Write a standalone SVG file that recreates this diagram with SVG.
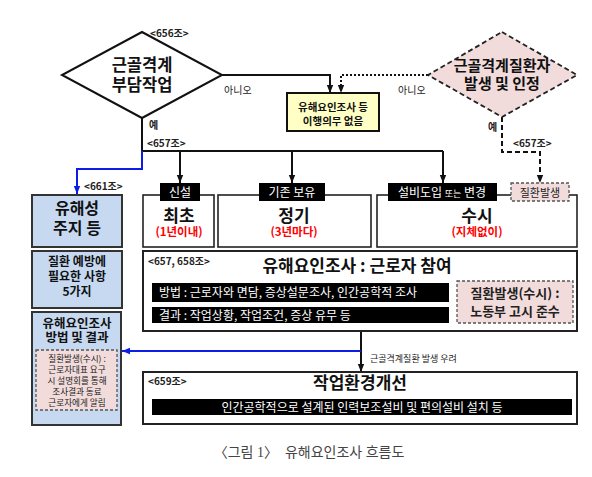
<svg xmlns="http://www.w3.org/2000/svg" width="592" height="477" viewBox="0 0 592 477">
<defs>
<style>
text{font-family:"Noto Sans CJK KR","Liberation Sans",sans-serif;}
.b{font-weight:bold;}
.c{text-anchor:middle;}
.box{fill:#fff;stroke:#222;stroke-width:2;}
.blue{fill:#C6D9F1;stroke:#333;stroke-width:2;}
.pink{fill:#F2DCDB;stroke:#555;stroke-width:1.3;stroke-dasharray:3,2;}
.bar{fill:#000;}
.wt{fill:#fff;font-size:12px;}
.ref{font-size:10px;font-weight:bold;fill:#222;}
.red{fill:#FF0000;font-size:11.5px;font-weight:bold;}
.ln{fill:none;stroke:#111;stroke-width:2;}
.bl{fill:none;stroke:#0A1EE6;stroke-width:2;}
</style>
<marker id="ah" viewBox="0 0 10 10" refX="10" refY="5" markerUnits="userSpaceOnUse" markerWidth="8" markerHeight="8" orient="auto"><path d="M0,1 L10,5 L0,9 z" fill="#111"/></marker>
<marker id="ahb" viewBox="0 0 10 10" refX="10" refY="5" markerUnits="userSpaceOnUse" markerWidth="8" markerHeight="8" orient="auto"><path d="M0,1 L10,5 L0,9 z" fill="#0A1EE6"/></marker>
</defs>
<rect width="592" height="477" fill="#fff"/>

<g id="connectors">
<path class="ln" d="M222,75 H330 V93" marker-end="url(#ah)"/>
<path class="ln" d="M428,75 H341 V93" stroke-dasharray="2,2" marker-end="url(#ah)"/>
<path class="ln" d="M142,118 V151 H443"/>
<path class="ln" d="M180,151 V183" marker-end="url(#ah)"/>
<path class="ln" d="M292,151 V183" marker-end="url(#ah)"/>
<path class="ln" d="M443,151 V183" marker-end="url(#ah)"/>
<path class="bl" d="M142,151 V169 H77 V194" marker-end="url(#ahb)"/>
<path class="ln" d="M502,117 V152 H540 V183" stroke-dasharray="5,3" marker-end="url(#ah)"/>
<path class="ln" d="M361,331 V372" marker-end="url(#ah)"/>
<path class="bl" d="M361,351 H122" marker-end="url(#ahb)"/>
<text class="ref" x="150" y="37">&lt;656조&gt;</text>
<text x="224" y="94" font-size="10" fill="#222">아니오</text>
<text x="398" y="94" font-size="10" fill="#222">아니오</text>
<text x="149" y="129" font-size="10" class="b" fill="#222">예</text>
<text class="ref" x="147" y="147">&lt;657조&gt;</text>
<text x="488" y="131" font-size="10" class="b" fill="#222">예</text>
<text class="ref" x="513" y="147">&lt;657조&gt;</text>
<text class="ref" x="84" y="190">&lt;661조&gt;</text>
<text x="370" y="362" font-size="9" fill="#222">근골격계질환 발생 우려</text>
</g>

<g id="decision1">
<polygon points="142,32 222,75 142,118 62,75" fill="#fff" stroke="#111" stroke-width="2"/>
<text class="b c" font-size="16.5" fill="#111"><tspan x="142" y="71">근골격계</tspan><tspan x="142" y="91">부담작업</tspan></text>
</g>

<g id="decision2">
<polygon points="502,32 577,75 502,117 428,75" fill="#F2DCDB" stroke="#222" stroke-width="1.8" stroke-dasharray="5,3"/>
<text class="b c" font-size="15" fill="#111"><tspan x="502" y="71">근골격계질환자</tspan><tspan x="502" y="89">발생 및 인정</tspan></text>
</g>

<g id="no-duty">
<rect x="287" y="93" width="92" height="38" fill="#FFFFC5" stroke="#111" stroke-width="2"/>
<text class="b c" font-size="10.5" fill="#111"><tspan x="333" y="111">유해요인조사 등</tspan><tspan x="333" y="125">이행의무 없음</tspan></text>
</g>

<g id="notice">
<rect class="blue" x="32" y="195" width="90" height="52"/>
<text class="b c" font-size="16" fill="#111"><tspan x="77" y="214">유해성</tspan><tspan x="77" y="234">주지 등</tspan></text>
</g>

<g id="prevention">
<rect class="blue" x="32" y="251" width="90" height="57"/>
<text class="b c" font-size="12" fill="#111"><tspan x="77" y="266">질환 예방에</tspan><tspan x="77" y="281">필요한 사항</tspan><tspan x="77" y="296">5가지</tspan></text>
</g>

<g id="method-result">
<rect class="blue" x="32" y="312" width="89" height="113"/>
<text class="b c" font-size="12.5" fill="#111"><tspan x="77" y="328">유해요인조사</tspan><tspan x="77" y="342">방법 및 결과</tspan></text>
<rect class="pink" x="36" y="350" width="81" height="60"/>
<text class="c" font-size="8.6" fill="#222"><tspan x="77" y="362">질환발생(수시) :</tspan><tspan x="77" y="373">근로자대표 요구</tspan><tspan x="77" y="384">시 설명회를 통해</tspan><tspan x="77" y="395">조사결과 동료</tspan><tspan x="77" y="406">근로자에게 알림</tspan></text>
</g>

<g id="first">
<rect x="143" y="195" width="71" height="52" fill="#fff" stroke="#222" stroke-width="1.6"/>
<rect class="bar" x="160" y="183" width="40" height="18"/>
<text class="wt c" x="180" y="197">신설</text>
<text class="b c" x="179" y="222" font-size="17" fill="#111">최초</text>
<text class="red c" x="179" y="236">(1년이내)</text>
</g>

<g id="regular">
<rect x="218" y="195" width="153" height="52" fill="#fff" stroke="#222" stroke-width="1.6"/>
<rect class="bar" x="259" y="183" width="66" height="18"/>
<text class="wt c" x="292" y="197">기존 보유</text>
<text class="b c" x="294" y="222" font-size="17" fill="#111">정기</text>
<text class="red c" x="294" y="236">(3년마다)</text>
</g>

<g id="anytime">
<rect x="377" y="195" width="200" height="52" fill="#fff" stroke="#222" stroke-width="1.6"/>
<rect class="bar" x="388" y="183" width="109" height="18"/>
<text class="wt c" x="442" y="197">설비도입 <tspan font-size="9">또는</tspan> 변경</text>
<rect class="pink" x="511" y="183" width="58" height="18"/>
<text class="c" x="540" y="197" font-size="11" fill="#222">질환발생</text>
<text class="b c" x="477" y="222" font-size="17" fill="#111">수시</text>
<text class="red c" x="477" y="236">(지체없이)</text>
</g>

<g id="survey">
<rect class="box" x="143" y="251" width="434" height="80"/>
<text class="ref" x="148" y="265">&lt;657, 658조&gt;</text>
<text class="b c" x="357" y="272" font-size="17" fill="#111">유해요인조사 : 근로자 참여</text>
<rect class="bar" x="152" y="283" width="297" height="19"/>
<text class="wt" x="159" y="297">방법 : 근로자와 면담, 증상설문조사, 인간공학적 조사</text>
<rect class="bar" x="152" y="307" width="297" height="16"/>
<text class="wt" x="159" y="320">결과 : 작업상황, 작업조건, 증상 유무 등</text>
<rect class="pink" x="457" y="281" width="116" height="42"/>
<text class="b c" font-size="13" fill="#222"><tspan x="515" y="298">질환발생(수시) :</tspan><tspan x="515" y="316">노동부 고시 준수</tspan></text>
</g>

<g id="improvement">
<rect class="box" x="143" y="372" width="434" height="52"/>
<text class="ref" x="148" y="385">&lt;659조&gt;</text>
<text class="b c" x="360" y="389" font-size="17" fill="#111">작업환경개선</text>
<rect class="bar" x="152" y="399" width="420" height="16"/>
<text class="wt c" x="362" y="412">인간공학적으로 설계된 인력보조설비 및 편의설비 설치 등</text>
</g>

<g id="caption">
<text class="c" x="309" y="457" font-size="14" fill="#444" xml:space="preserve" style="font-family:'Liberation Serif','Noto Sans CJK KR',serif">〈그림 1〉  유해요인조사 흐름도</text>
</g>
</svg>
